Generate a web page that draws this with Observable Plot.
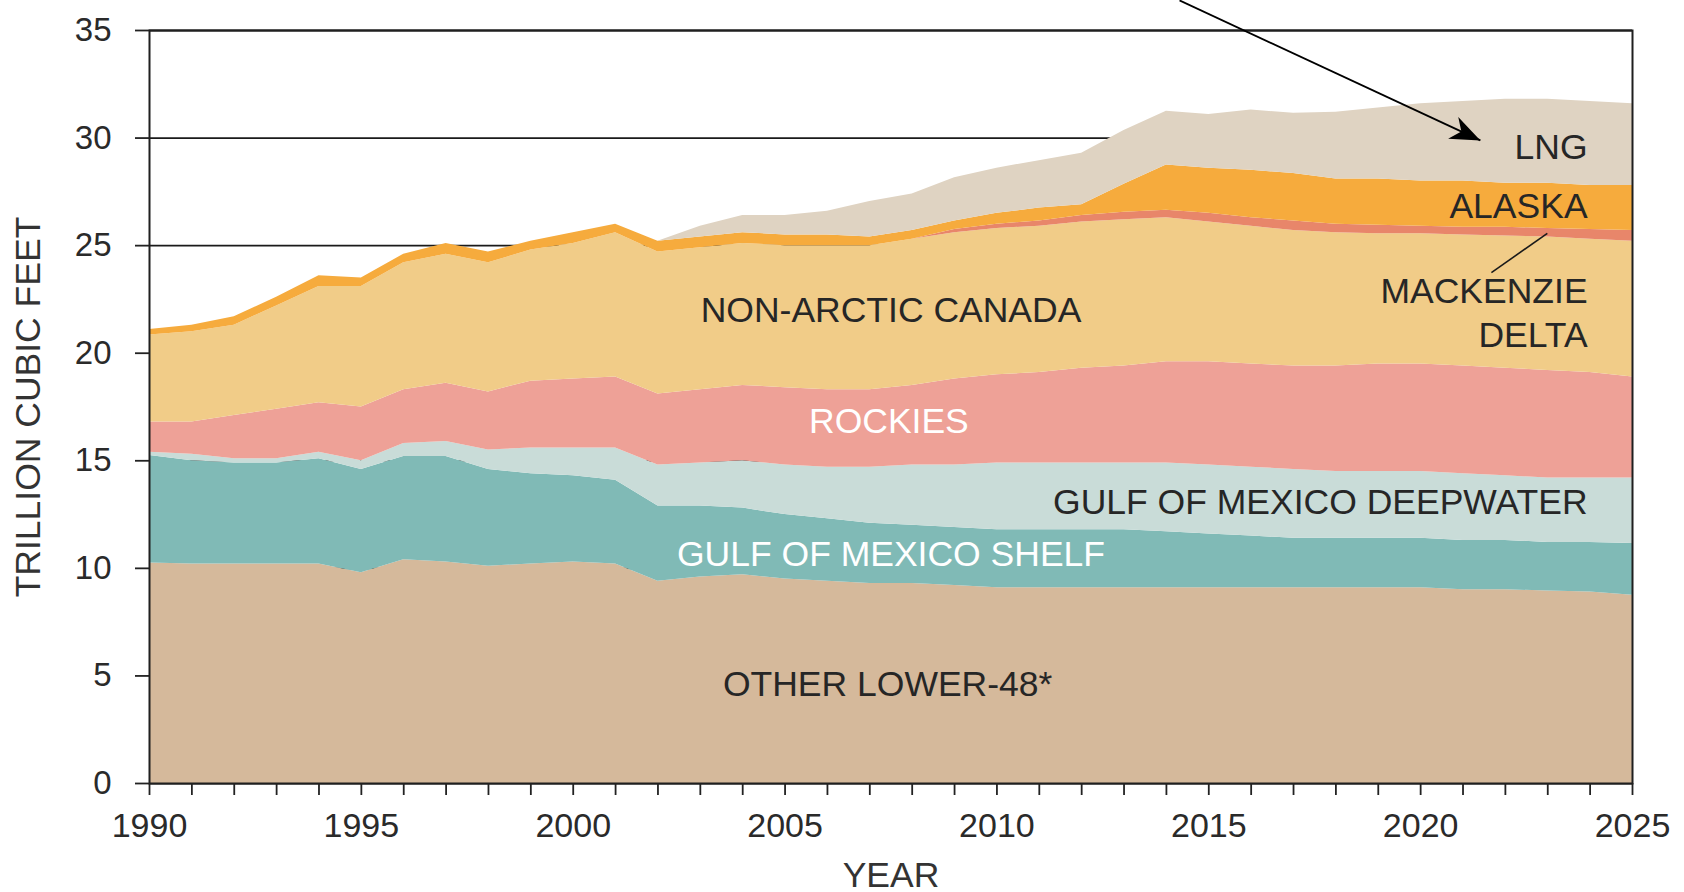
<!DOCTYPE html>
<html>
<head>
<meta charset="utf-8">
<script src="https://cdn.jsdelivr.net/npm/d3@7"></script>
<script src="https://cdn.jsdelivr.net/npm/@observablehq/plot@0.6"></script>
<style>
  html, body { margin: 0; padding: 0; background: #fff; overflow: hidden; }
  #chart svg { display: block; }
</style>
</head>
<body>
<div id="chart"></div>
<script>
// ---------- data (trillion cubic feet) ----------
const years = [1990,1991,1992,1993,1994,1995,1996,1997,1998,1999,
               2000,2001,2002,2003,2004,2005,2006,2007,2008,2009,
               2010,2011,2012,2013,2014,2015,2016,2017,2018,2019,
               2020,2021,2022,2023,2024,2025];

const otherLower48 = [10.25,10.2,10.2,10.2,10.2,9.8,10.4,10.3,10.1,10.2,
                      10.3,10.2,9.4,9.6,9.7,9.5,9.4,9.3,9.3,9.2,
                      9.1,9.1,9.1,9.1,9.1,9.1,9.1,9.1,9.1,9.1,
                      9.1,9.0,9.0,8.95,8.9,8.75];
const gomShelf = [5.0,4.8,4.7,4.7,4.9,4.8,4.8,4.9,4.5,4.2,
                  4.0,3.9,3.5,3.3,3.1,3.0,2.9,2.8,2.7,2.7,
                  2.7,2.7,2.7,2.7,2.6,2.5,2.4,2.3,2.3,2.3,
                  2.3,2.3,2.3,2.25,2.3,2.4];
const gomDeepwater = [0.15,0.3,0.2,0.2,0.3,0.4,0.6,0.7,0.9,1.2,
                      1.3,1.5,1.9,2.0,2.2,2.3,2.4,2.6,2.8,2.9,
                      3.1,3.1,3.1,3.1,3.2,3.2,3.2,3.2,3.1,3.1,
                      3.1,3.1,3.0,3.0,3.0,3.05];
const rockies = [1.4,1.5,2.0,2.3,2.3,2.5,2.5,2.7,2.7,3.1,
                 3.2,3.3,3.3,3.4,3.5,3.6,3.6,3.6,3.7,4.0,
                 4.1,4.2,4.4,4.5,4.7,4.8,4.8,4.8,4.9,5.0,
                 5.0,5.0,5.0,5.0,4.9,4.7];
const nonArcticCanada = [4.05,4.2,4.2,4.8,5.4,5.6,5.9,6.0,6.0,6.1,
                         6.3,6.7,6.6,6.6,6.6,6.6,6.7,6.7,6.8,6.8,
                         6.8,6.8,6.8,6.8,6.7,6.5,6.4,6.3,6.2,6.05,
                         6.05,6.1,6.15,6.2,6.2,6.3];
const mackenzieDelta = [0,0,0,0,0,0,0,0,0,0,
                        0,0,0,0,0,0,0,0,0,0.15,
                        0.2,0.25,0.3,0.35,0.35,0.4,0.4,0.45,0.4,0.4,
                        0.35,0.35,0.4,0.4,0.45,0.5];
const alaska = [0.25,0.3,0.4,0.4,0.5,0.4,0.4,0.5,0.5,0.4,
                0.5,0.4,0.5,0.5,0.5,0.5,0.5,0.4,0.4,0.4,
                0.5,0.6,0.5,1.3,2.1,2.1,2.2,2.2,2.1,2.15,
                2.1,2.15,2.05,2.1,2.05,2.1];
const lng = [0,0,0,0,0,0,0,0,0,0,
             0,0,0,0.5,0.8,0.9,1.1,1.65,1.7,2.0,
             2.1,2.2,2.4,2.5,2.5,2.5,2.8,2.8,3.1,3.3,
             3.6,3.7,3.9,3.9,3.9,3.8];

const seriesNames = ["OTHER LOWER-48*","GULF OF MEXICO SHELF","GULF OF MEXICO DEEPWATER",
                     "ROCKIES","NON-ARCTIC CANADA","MACKENZIE DELTA","ALASKA","LNG"];
const seriesValues = [otherLower48, gomShelf, gomDeepwater, rockies,
                      nonArcticCanada, mackenzieDelta, alaska, lng];
const seriesColors = ["#d5b99b","#80bab6","#c9dcd8","#eea197",
                      "#f1cc88","#e8866a","#f6ab3d","#dfd3c2"];
const yTicks = [0,5,10,15,20,25,30,35];
const xLabelEvery = 5;

// long table built from the arrays above
const rows = seriesNames.flatMap((name, i) =>
  years.map((year, j) => ({year, value: seriesValues[i][j], series: name})));

// filled "stealth" arrow head marker
function stealthMarker(color) {
  const m = d3.create("svg:marker")
    .attr("viewBox", "-30 -13 32 26")
    .attr("markerWidth", 32)
    .attr("markerHeight", 26)
    .attr("markerUnits", "userSpaceOnUse")
    .attr("refX", 0).attr("refY", 0)
    .attr("orient", "auto");
  m.append("path").attr("d", "M-30,-12L0,0L-30,12L-21,0Z").attr("fill", color).attr("stroke", "none");
  return m.node();
}

const font = "'Liberation Sans', Arial, Helvetica, sans-serif";
const ink = "#262626";
const fs = 35.5;

const chart = Plot.plot({
  width: 1684,
  height: 892,
  marginLeft: 149,
  marginRight: 52,
  marginTop: 30,
  marginBottom: 109,
  style: {fontFamily: font, color: "#222", background: "#fff", overflow: "visible"},
  x: {domain: [years[0], years[years.length - 1]], label: null},
  y: {domain: [0, 35], label: null},
  color: {domain: seriesNames, range: seriesColors},
  marks: [
    Plot.gridY(yTicks, {stroke: "#1a1a1a", strokeOpacity: 1, strokeWidth: 1.8}),
    Plot.areaY(rows, {x: "year", y: "value", z: "series", fill: "series", order: seriesNames}),
    Plot.frame({stroke: "#1f1f1f", strokeWidth: 2}),
    Plot.axisY({ticks: yTicks, tickSize: 14, tickPadding: 24, fontSize: 33, strokeWidth: 1.8, label: null, fill: "#2a2a2a"}),
    Plot.axisX({ticks: years, tickSize: 12, tickPadding: 17, fontSize: 34, strokeWidth: 1.8, label: null, fill: "#2a2a2a",
                tickFormat: d => d % xLabelEvery === 0 ? String(d) : ""}),
    // axis titles
    Plot.text(["TRILLION CUBIC FEET"], {frameAnchor: "left", dx: -121, rotate: -90, textAnchor: "middle",
                                       lineAnchor: "middle", fontSize: fs, fill: "#333"}),
    Plot.text(["YEAR"], {frameAnchor: "bottom", dy: 92, lineAnchor: "middle", fontSize: fs, fill: "#333"}),
    // in-area labels (centred)
    Plot.text(["NON-ARCTIC CANADA"], {x: 2007.5, y: 22.0, fontSize: fs, fill: ink}),
    Plot.text(["ROCKIES"], {x: 2007.45, y: 16.8, fontSize: fs, fill: "#fff"}),
    Plot.text(["GULF OF MEXICO SHELF"], {x: 2007.5, y: 10.65, fontSize: fs, fill: "#fff"}),
    Plot.text(["OTHER LOWER-48*"], {x: 2007.42, y: 4.6, fontSize: fs, fill: ink}),
    // right-aligned labels
    Plot.text(["LNG"], {x: 2023.94, y: 29.55, fontSize: fs, fill: ink, textAnchor: "end"}),
    Plot.text(["ALASKA"], {x: 2023.94, y: 26.8, fontSize: fs, fill: ink, textAnchor: "end"}),
    Plot.text(["MACKENZIE"], {x: 2023.94, y: 22.85, fontSize: fs, fill: ink, textAnchor: "end"}),
    Plot.text(["DELTA"], {x: 2023.94, y: 20.8, fontSize: fs, fill: ink, textAnchor: "end"}),
    Plot.text(["GULF OF MEXICO DEEPWATER"], {x: 2023.94, y: 13.06, fontSize: fs, fill: ink, textAnchor: "end"}),
    // Mackenzie leader line
    Plot.link([{x1: 2021.67, y1: 23.75, x2: 2022.99, y2: 25.57}],
              {x1: "x1", y1: "y1", x2: "x2", y2: "y2", stroke: "#1a1a1a", strokeWidth: 1.6}),
    // LNG arrow from above the frame
    Plot.link([{x1: 2014.31, y1: 36.4, x2: 2021.41, y2: 29.89}],
              {x1: "x1", y1: "y1", x2: "x2", y2: "y2", stroke: "#000", strokeWidth: 1.8, markerEnd: stealthMarker})
  ]
});

document.getElementById("chart").appendChild(chart);
</script>
</body>
</html>
